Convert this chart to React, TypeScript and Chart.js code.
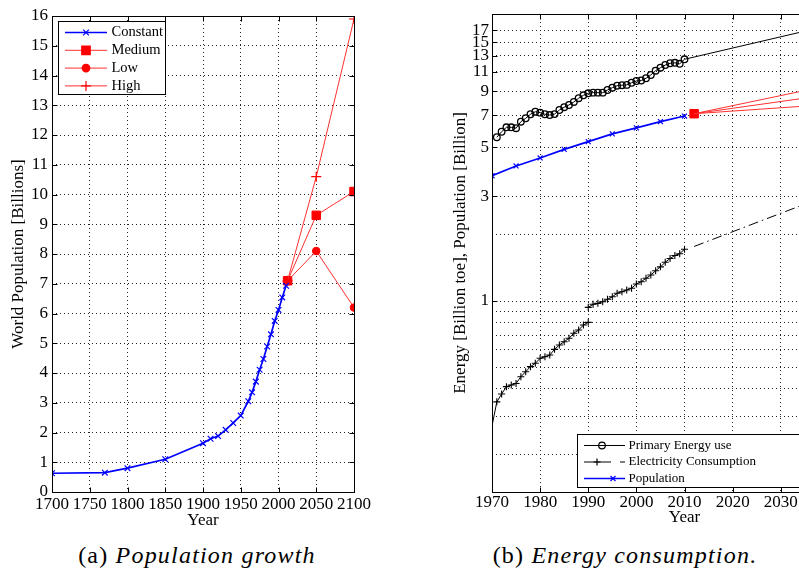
import React, { useEffect, useRef } from "react";
import { Chart, registerables } from "chart.js";
Chart.register(...registerables);

// ---------- (a) Population growth ----------
const popYears = [1700, 1770, 1800, 1850, 1900, 1910, 1920, 1930, 1940, 1950, 1960, 1965, 1970, 1975, 1980, 1985, 1990, 1995, 2000, 2005, 2010];
const popConstant = [0.63, 0.65, 0.8, 1.1, 1.64, 1.79, 1.88, 2.09, 2.32, 2.57, 3.05, 3.35, 3.71, 4.11, 4.47, 4.89, 5.3, 5.75, 6.12, 6.54, 6.93];
const scenarioYears = [2012, 2050, 2100];
const popMedium = [7.1, 9.3, 10.1];
const popLow = [7.1, 8.1, 6.2];
const popHigh = [7.1, 10.6, 15.9];
const popXTicks = [1700, 1750, 1800, 1850, 1900, 1950, 2000, 2050, 2100];
const popYTicks = [0, 1, 2, 3, 4, 5, 6, 7, 8, 9, 10, 11, 12, 13, 14, 15, 16];

// ---------- (b) Energy consumption ----------
const energyYears = [1971, 1972, 1973, 1974, 1975, 1976, 1977, 1978, 1979, 1980, 1981, 1982, 1983, 1984, 1985, 1986, 1987, 1988, 1989, 1990, 1991, 1992, 1993, 1994, 1995, 1996, 1997, 1998, 1999, 2000, 2001, 2002, 2003, 2004, 2005, 2006, 2007, 2008, 2009, 2010];
const primaryEnergy = [5.55, 5.88, 6.16, 6.16, 6.1, 6.53, 6.77, 7.06, 7.25, 7.18, 7.06, 7.0, 7.07, 7.38, 7.6, 7.78, 8.03, 8.35, 8.61, 8.79, 8.85, 8.85, 8.85, 9.1, 9.32, 9.52, 9.57, 9.6, 9.82, 10.0, 10.05, 10.29, 10.65, 11.14, 11.49, 11.82, 12.04, 12.1, 11.97, 12.55];
const energyTrendYears = [2010, 2050];
const energyTrend = [12.55, 20.1];
const elecYearsA = [1970, 1971, 1972, 1973, 1974, 1975, 1976, 1977, 1978, 1979, 1980, 1981, 1982, 1983, 1984, 1985, 1986, 1987, 1988, 1989, 1990];
const elecA = [0.27, 0.348, 0.378, 0.408, 0.415, 0.422, 0.453, 0.477, 0.503, 0.521, 0.549, 0.558, 0.568, 0.603, 0.631, 0.653, 0.677, 0.714, 0.738, 0.778, 0.8];
const elecYearsB = [1990, 1991, 1992, 1993, 1994, 1995, 1996, 1997, 1998, 1999, 2000, 2001, 2002, 2003, 2004, 2005, 2006, 2007, 2008, 2009, 2010];
const elecB = [0.936, 0.966, 0.976, 0.993, 1.018, 1.046, 1.084, 1.102, 1.122, 1.142, 1.195, 1.224, 1.268, 1.313, 1.373, 1.43, 1.5, 1.56, 1.61, 1.64, 1.72];
const elecTrendYears = [2012, 2050];
const elecTrend = [1.77, 3.68];
const energyXTicks = [1970, 1980, 1990, 2000, 2010, 2020, 2030, 2040, 2050];
const energyGridValues = [0.2, 0.3, 0.4, 0.5, 0.6, 0.7, 0.8, 0.9, 1, 2, 3, 5, 7, 9, 11, 13, 15, 17];
const energyLabeledTicks = [1, 3, 5, 7, 9, 11, 13, 15, 17];

const BLUE = "#0000ff";
const RED = "#ff0000";
const RED_LINE = "#ff3030";
const BLACK = "#000000";

Chart.defaults.font.family = "'Liberation Serif', 'Times New Roman', serif";
Chart.defaults.color = "#000";

const xy = (xs: number[], ys: number[]) => xs.map((x, i) => ({ x, y: ys[i] }));

function drawMarker(ctx: CanvasRenderingContext2D, style: string, x: number, y: number, r: number, stroke: string, fill: string | null, lw: number) {
  ctx.save();
  ctx.setLineDash([]);
  ctx.strokeStyle = stroke;
  ctx.lineWidth = lw;
  ctx.beginPath();
  if (style === "circle") {
    ctx.arc(x, y, r, 0, Math.PI * 2);
    if (fill) { ctx.fillStyle = fill; ctx.fill(); }
    ctx.stroke();
  } else if (style === "rect") {
    const s = r * Math.SQRT1_2;
    ctx.rect(x - s, y - s, 2 * s, 2 * s);
    if (fill) { ctx.fillStyle = fill; ctx.fill(); }
    ctx.stroke();
  } else if (style === "cross") {
    ctx.moveTo(x - r, y); ctx.lineTo(x + r, y);
    ctx.moveTo(x, y - r); ctx.lineTo(x, y + r);
    ctx.stroke();
  } else if (style === "crossRot") {
    const s = r * Math.SQRT1_2;
    ctx.moveTo(x - s, y - s); ctx.lineTo(x + s, y + s);
    ctx.moveTo(x - s, y + s); ctx.lineTo(x + s, y - s);
    ctx.stroke();
  }
  ctx.restore();
}

type LegendItem = {
  label: string; color: string; lineWidth: number; line: [number, number]; extra?: [number, number];
  marker: string; markerX: number; radius: number; fill: string | null;
};

function makeLegendPlugin(id: string, box: { x: number; y: number; w: number; h: number }, rows: number[], textX: number, font: string, items: LegendItem[]) {
  return {
    id,
    afterDraw(chart: any) {
      const ctx: CanvasRenderingContext2D = chart.ctx;
      ctx.save();
      ctx.setLineDash([]);
      ctx.fillStyle = "#fff";
      ctx.fillRect(box.x, box.y, box.w, box.h);
      ctx.strokeStyle = "#000";
      ctx.lineWidth = 1;
      ctx.strokeRect(box.x, box.y, box.w, box.h);
      items.forEach((it, i) => {
        const y = rows[i];
        ctx.strokeStyle = it.color;
        ctx.lineWidth = it.lineWidth;
        ctx.beginPath();
        ctx.moveTo(it.line[0], y);
        ctx.lineTo(it.line[1], y);
        if (it.extra) { ctx.moveTo(it.extra[0], y); ctx.lineTo(it.extra[1], y); }
        ctx.stroke();
        drawMarker(ctx, it.marker, it.markerX, y, it.radius, it.color === RED_LINE ? RED : it.color, it.fill, 1.2);
        ctx.fillStyle = "#000";
        ctx.font = font;
        ctx.textBaseline = "middle";
        ctx.textAlign = "left";
        ctx.fillText(it.label, textX, y);
      });
      ctx.restore();
    },
  };
}

function makeFramePlugin(labeledY: ((v: number) => boolean)) {
  return {
    id: "matlabFrame",
    afterDatasetsDraw(chart: any) {
      const { ctx, chartArea: a, scales } = chart;
      ctx.save();
      ctx.setLineDash([]);
      ctx.strokeStyle = "#000";
      ctx.lineWidth = 1;
      const L = Math.round(a.left) + 0.5, R = Math.round(a.right) + 0.5, T = Math.round(a.top) + 0.5, B = Math.round(a.bottom) + 0.5;
      ctx.strokeRect(L, T, R - L, B - T);
      const tl = 5;
      ctx.beginPath();
      for (const t of scales.x.ticks) {
        const px = Math.round(scales.x.getPixelForValue(t.value)) + 0.5;
        ctx.moveTo(px, B); ctx.lineTo(px, B - tl);
        ctx.moveTo(px, T); ctx.lineTo(px, T + tl);
      }
      for (const t of scales.y.ticks) {
        if (!labeledY(t.value)) continue;
        const py = Math.round(scales.y.getPixelForValue(t.value)) + 0.5;
        ctx.moveTo(L, py); ctx.lineTo(L + tl, py);
        ctx.moveTo(R, py); ctx.lineTo(R - tl, py);
      }
      ctx.stroke();
      ctx.restore();
    },
  };
}

const gridOpts = { color: "#222", lineWidth: 1, drawTicks: false };
const borderOpts = { display: false, dash: [1, 3] };

function leftConfig(): any {
  return {
    type: "line",
    data: {
      datasets: [
        { label: "Constant", data: xy(popYears, popConstant), borderColor: BLUE, borderWidth: 1.7, pointStyle: "crossRot", pointRadius: 4, pointBorderColor: BLUE, pointBackgroundColor: BLUE, pointBorderWidth: 1.2 },
        { label: "High", data: xy(scenarioYears, popHigh), borderColor: RED_LINE, borderWidth: 1, pointStyle: "cross", pointRadius: 5, pointBorderColor: RED, pointBorderWidth: 1.2 },
        { label: "Low", data: xy(scenarioYears, popLow), borderColor: RED_LINE, borderWidth: 1, pointStyle: "circle", pointRadius: 3.8, pointBorderColor: RED, pointBackgroundColor: RED, pointBorderWidth: 1 },
        { label: "Medium", data: xy(scenarioYears, popMedium), borderColor: RED_LINE, borderWidth: 1, pointStyle: "rect", pointRadius: 6, pointBorderColor: RED, pointBackgroundColor: RED, pointBorderWidth: 1 },
      ],
    },
    options: {
      responsive: false,
      animation: false,
      events: [],
      layout: { padding: { left: 0, top: 16, right: 86, bottom: 0 } },
      plugins: { legend: { display: false }, tooltip: { enabled: false } },
      scales: {
        x: {
          type: "linear", min: 1700, max: 2100,
          afterBuildTicks: (s: any) => { s.ticks = popXTicks.map((v) => ({ value: v })); },
          afterFit: (s: any) => { s.height = 43; },
          ticks: { autoSkip: false, maxRotation: 0, minRotation: 0, padding: 2, font: { size: 17 }, callback: (v: any) => String(v) },
          grid: gridOpts, border: borderOpts,
          title: { display: true, text: "Year", font: { size: 17 }, padding: { top: 0, bottom: 4 } },
        },
        y: {
          type: "linear", min: 0, max: 16,
          afterBuildTicks: (s: any) => { s.ticks = popYTicks.map((v) => ({ value: v })); },
          afterFit: (s: any) => { s.width = 52; },
          ticks: { autoSkip: false, padding: 4, font: { size: 17 }, callback: (v: any) => String(v) },
          grid: gridOpts, border: borderOpts,
          title: { display: true, text: "World Population [Billions]", font: { size: 17 }, padding: { top: 8, bottom: 0 } },
        },
      },
    },
    plugins: [
      makeFramePlugin(() => true),
      makeLegendPlugin("legendA", { x: 58.5, y: 21.5, w: 107, h: 73 }, [32.5, 50.3, 68.1, 85.9], 111.5, "14.5px 'Liberation Serif', serif", [
        { label: "Constant", color: BLUE, lineWidth: 1.7, line: [65, 107], marker: "crossRot", markerX: 86, radius: 4, fill: null },
        { label: "Medium", color: RED_LINE, lineWidth: 1, line: [65, 107], marker: "rect", markerX: 86, radius: 6, fill: RED },
        { label: "Low", color: RED_LINE, lineWidth: 1, line: [65, 107], marker: "circle", markerX: 86, radius: 3.8, fill: RED },
        { label: "High", color: RED_LINE, lineWidth: 1, line: [65, 107], marker: "cross", markerX: 86, radius: 5, fill: null },
      ]),
    ],
  };
}

function rightConfig(): any {
  const popRecent = popYears.map((x, i) => ({ x, y: popConstant[i] })).filter((p) => p.x >= 1970);
  return {
    type: "line",
    data: {
      datasets: [
        { label: "Energy trend", data: xy(energyTrendYears, energyTrend), borderColor: BLACK, borderWidth: 1, pointRadius: 0 },
        { label: "Primary Energy use", data: xy(energyYears, primaryEnergy), borderColor: BLACK, borderWidth: 1, pointStyle: "circle", pointRadius: 3.3, pointBorderColor: BLACK, pointBackgroundColor: "rgba(0,0,0,0)", pointBorderWidth: 1.3 },
        { label: "Electricity trend", data: xy(elecTrendYears, elecTrend), borderColor: BLACK, borderWidth: 1, borderDash: [10, 4, 1.5, 4], pointRadius: 0 },
        { label: "Electricity Consumption", data: xy(elecYearsA, elecA), borderColor: BLACK, borderWidth: 1, pointStyle: "cross", pointRadius: (c: any) => (c.dataIndex === 0 ? 0 : 3.5), pointBorderColor: BLACK, pointBorderWidth: 1.1 },
        { label: "Electricity Consumption 2", data: xy(elecYearsB, elecB), borderColor: BLACK, borderWidth: 1, pointStyle: "cross", pointRadius: 3.5, pointBorderColor: BLACK, pointBorderWidth: 1.1 },
        { label: "Population", data: popRecent, borderColor: BLUE, borderWidth: 1.7, pointStyle: "crossRot", pointRadius: 3.5, pointBorderColor: BLUE, pointBorderWidth: 1.2 },
        { label: "High", data: xy(scenarioYears, popHigh), borderColor: RED_LINE, borderWidth: 1, pointRadius: 0 },
        { label: "Low", data: xy(scenarioYears, popLow), borderColor: RED_LINE, borderWidth: 1, pointRadius: 0 },
        { label: "Medium", data: xy(scenarioYears, popMedium), borderColor: RED_LINE, borderWidth: 1, pointStyle: "rect", pointRadius: 6, pointBorderColor: RED, pointBackgroundColor: RED, pointBorderWidth: 1 },
      ],
    },
    options: {
      responsive: false,
      animation: false,
      events: [],
      layout: { padding: { left: 0, top: 14, right: 23, bottom: 0 } },
      plugins: { legend: { display: false }, tooltip: { enabled: false } },
      scales: {
        x: {
          type: "linear", min: 1970, max: 2050,
          afterBuildTicks: (s: any) => { s.ticks = energyXTicks.map((v) => ({ value: v })); },
          afterFit: (s: any) => { s.height = 43; },
          ticks: { autoSkip: false, maxRotation: 0, minRotation: 0, padding: 0, font: { size: 17 }, callback: (v: any) => String(v) },
          grid: gridOpts, border: borderOpts,
          title: { display: true, text: "Year", font: { size: 17 }, padding: { top: 0, bottom: 7 } },
        },
        y: {
          type: "logarithmic", min: 0.1355, max: 20.16,
          afterBuildTicks: (s: any) => { s.ticks = energyGridValues.map((v) => ({ value: v })); },
          afterFit: (s: any) => { s.width = 52; },
          ticks: { autoSkip: false, padding: 3, font: { size: 17 }, callback: (v: any) => (energyLabeledTicks.includes(v) ? String(v) : "") },
          grid: gridOpts, border: borderOpts,
          title: { display: true, text: "Energy [Billion toe], Population [Billion]", font: { size: 17 }, padding: { top: 10, bottom: 0 } },
        },
      },
    },
    plugins: [
      makeFramePlugin((v) => energyLabeledTicks.includes(v)),
      makeLegendPlugin("legendB", { x: 137.5, y: 434.5, w: 300, h: 53 }, [445.5, 462, 478.5], 188.5, "13px 'Liberation Serif', serif", [
        { label: "Primary Energy use", color: BLACK, lineWidth: 1, line: [144, 185], marker: "circle", markerX: 162, radius: 3.3, fill: null },
        { label: "Electricity Consumption", color: BLACK, lineWidth: 1, line: [144, 171], extra: [180, 185], marker: "cross", markerX: 157, radius: 3.5, fill: null },
        { label: "Population", color: BLUE, lineWidth: 1.7, line: [144, 185], marker: "crossRot", markerX: 173, radius: 3.5, fill: null },
      ]),
    ],
  };
}

const captionBase: React.CSSProperties = {
  position: "absolute",
  top: 542,
  width: 400,
  textAlign: "center",
  whiteSpace: "nowrap",
  fontFamily: "'Liberation Serif', serif",
  fontSize: 24,
  letterSpacing: "1.2px",
  lineHeight: "27px",
  color: "#000",
};

export default function App() {
  const leftRef = useRef<HTMLCanvasElement>(null);
  const rightRef = useRef<HTMLCanvasElement>(null);
  useEffect(() => {
    const c1 = new Chart(leftRef.current as HTMLCanvasElement, leftConfig());
    const c2 = new Chart(rightRef.current as HTMLCanvasElement, rightConfig());
    return () => { c1.destroy(); c2.destroy(); };
  }, []);
  return (
    <div style={{ position: "absolute", left: 0, top: 0, width: 799, height: 573, overflow: "hidden", background: "#fff" }}>
      <canvas ref={leftRef} width={440} height={535} style={{ position: "absolute", left: 0, top: 0, width: 440, height: 535 }} />
      <canvas ref={rightRef} width={460} height={535} style={{ position: "absolute", left: 440, top: 0, width: 460, height: 535 }} />
      <div style={{ ...captionBase, left: 197 - 200 }}>(a) <i>Population growth</i></div>
      <div style={{ ...captionBase, left: 625 - 200 }}>(b) <i>Energy consumption.</i></div>
    </div>
  );
}
